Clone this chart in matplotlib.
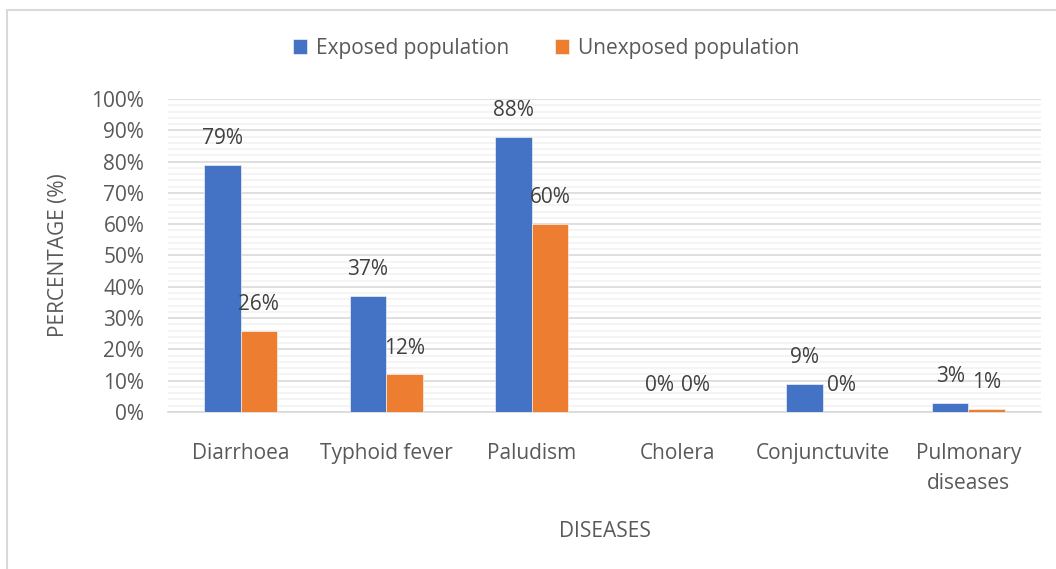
import matplotlib
matplotlib.use('Agg')
import matplotlib.pyplot as plt
import numpy as np
from matplotlib.ticker import MultipleLocator, PercentFormatter
from matplotlib.patches import Rectangle

# data
diseases = ['Diarrhoea', 'Typhoid fever', 'Paludism', 'Cholera',
            'Conjunctuvite', 'Pulmonary\ndiseases']
exposed = [79, 37, 88, 0, 9, 3]
unexposed = [26, 12, 60, 0, 0, 1]
series_names = ['Exposed population', 'Unexposed population']
colors = ['#4472C4', '#ED7D31']

plt.rcParams['font.family'] = ['Open Sans', 'DejaVu Sans']
text_color = '#595959'
fs = 15

fig = plt.figure(figsize=(10.56, 5.69), dpi=100)
ax = fig.add_axes([0.159, 0.276, 0.827, 0.55])

# outer chart border
fig.patches.append(Rectangle((7 / 1056, -0.1), 1.2, 1 - 10 / 569 + 0.1,
                             transform=fig.transFigure, fill=False,
                             edgecolor='#d9d9d9', linewidth=1.5))

x = np.arange(len(diseases))
w = 0.25
for i, (vals, name) in enumerate(zip([exposed, unexposed], series_names)):
    pos = x + (i - 0.5) * w
    ax.bar(pos, vals, width=w, color=colors[i], label=name,
           edgecolor='white', linewidth=0.4, zorder=3)
    for xp, v in zip(pos, vals):
        ax.annotate(f'{v}%', (xp, v), xytext=(0, 19), textcoords='offset points',
                    ha='center', va='center', fontsize=fs, color='#404040')

ax.set_xlim(-0.5, len(diseases) - 0.5)
ax.set_ylim(0, 100)
ax.yaxis.set_major_locator(MultipleLocator(10))
ax.yaxis.set_minor_locator(MultipleLocator(2))
ax.yaxis.set_major_formatter(PercentFormatter(decimals=0))
ax.grid(axis='y', which='major', color='#d9d9d9', linewidth=1.2, zorder=0)
ax.grid(axis='y', which='minor', color='#f2f2f2', linewidth=1.2, zorder=0)
ax.set_axisbelow(True)

for s in ['top', 'right', 'left']:
    ax.spines[s].set_visible(False)
ax.spines['bottom'].set_color('#d9d9d9')
ax.spines['bottom'].set_linewidth(1.2)

ax.set_xticks(x)
ax.set_xticklabels(diseases, fontsize=fs, color=text_color, linespacing=1.6)
ax.tick_params(axis='x', length=0, pad=22)
ax.tick_params(axis='y', which='both', length=0, labelsize=fs, labelcolor=text_color, pad=17)

ax.set_ylabel('PERCENTAGE (%)', fontsize=fs, color=text_color, labelpad=16)
ax.set_xlabel('DISEASES', fontsize=fs, color=text_color, labelpad=19)

fig.legend(loc='center', bbox_to_anchor=(0.517, 0.915), ncol=2, frameon=False,
           fontsize=fs, labelcolor=text_color, handlelength=0.7, handleheight=0.7,
           handletextpad=0.4, columnspacing=2.2)

fig.savefig('out.png', dpi=100)
